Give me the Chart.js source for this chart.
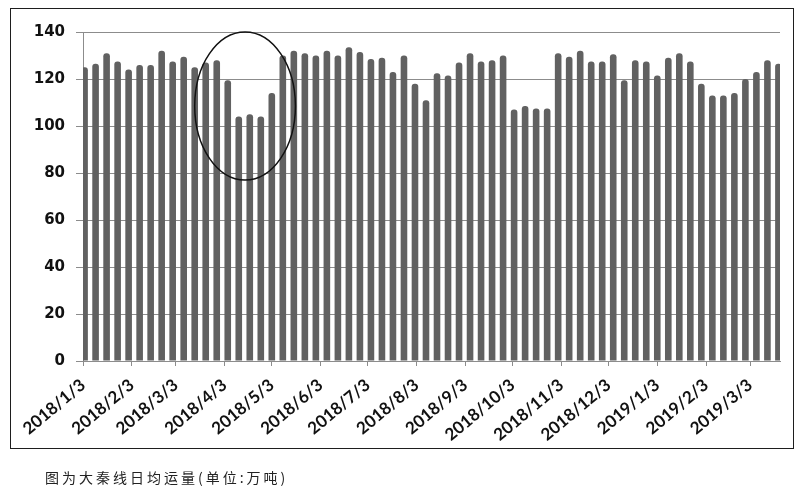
<!DOCTYPE html>
<html>
<head>
<meta charset="utf-8">
<script src="https://cdn.jsdelivr.net/npm/chart.js@4.4.1/dist/chart.umd.min.js"></script>
<style>
  html, body { margin: 0; padding: 0; background: #fff; }
  #wrap { position: relative; width: 801px; height: 493px; overflow: hidden; }
  #chart-box { position: absolute; left: 0; top: 0; width: 801px; height: 493px; }
  #frame { position: absolute; left: 10px; top: 8px; width: 782px; height: 439px; border: 1.5px solid #1e1e1e; pointer-events: none; }
  #caption { position: absolute; left: 45px; top: 467px; font-family: 'Noto Sans CJK SC', sans-serif; font-size: 14px; letter-spacing: 3px; color: #222; }
</style>
</head>
<body>
<div id="wrap">
  <div id="frame"></div>
  <div id="chart-box"><canvas id="daqin"></canvas></div>
  <div id="caption">图为大秦线日均运量(单位:万吨)</div>
</div>
<script>
  'use strict';

  // axis range and weekly series
  const axisStart = '2018/1/3';
  const axisEnd   = '2019/3/22';
  const firstWeek = '2018/1/4';

  const tickLabels = [
    '2018/1/3', '2018/2/3', '2018/3/3', '2018/4/3', '2018/5/3', '2018/6/3', '2018/7/3',
    '2018/8/3', '2018/9/3', '2018/10/3', '2018/11/3', '2018/12/3', '2019/1/3', '2019/2/3', '2019/3/3'
  ];

  // daily average volume, 10k tonnes, one value a week
  const volumes = [
    125, 126.5, 131, 127.5, 124, 126, 126, 132, 127.5, 129.5,
    125, 127, 128, 119.5, 104, 105, 104, 114, 130, 132,
    131, 130, 132, 130, 133.5, 131.5, 128.5, 129, 123, 130,
    118, 111, 122.5, 121.5, 127, 131, 127.5, 128, 130, 107,
    108.5, 107.5, 107.5, 131, 129.5, 132, 127.5, 127.5, 130.5, 119.5,
    128, 127.5, 121.5, 129, 131, 127.5, 118, 113, 113, 114,
    120, 123, 128, 126.5
  ];

  // the hand drawn ring round the april/may dip
  const ringDates  = ['2018/3/15', '2018/5/18'];
  const ringValues = [77, 140];

  function dayOffset(s) {
    let p = s.split('/').map(Number);
    let b = axisStart.split('/').map(Number);
    return (Date.UTC(p[0], p[1] - 1, p[2]) - Date.UTC(b[0], b[1] - 1, b[2])) / 86400000;
  }

  let points = volumes.map(function (v, i) {
    return { x: dayOffset(firstWeek) + 7 * i, y: v };
  });
  let tickDays = tickLabels.map(dayOffset);

  const ringPlugin = {
    id: 'ring',
    afterDatasetsDraw: function (chart) {
      let ctx = chart.ctx;
      let xs = chart.scales.x, ys = chart.scales.y;
      let x0 = xs.getPixelForValue(dayOffset(ringDates[0]));
      let x1 = xs.getPixelForValue(dayOffset(ringDates[1]));
      let y0 = ys.getPixelForValue(ringValues[0]);
      let y1 = ys.getPixelForValue(ringValues[1]);
      ctx.save();
      ctx.beginPath();
      ctx.ellipse((x0 + x1) / 2, (y0 + y1) / 2, Math.abs(x1 - x0) / 2, Math.abs(y1 - y0) / 2, 0, 0, Math.PI * 2);
      ctx.lineWidth = 1.5;
      ctx.strokeStyle = '#111';
      ctx.stroke();
      ctx.restore();
    }
  };

  new Chart(document.getElementById('daqin'), {
    type: 'bar',
    data: {
      datasets: [{
        data: points,
        backgroundColor: '#616161',
        borderWidth: 0,
        borderRadius: { topLeft: 3, topRight: 3 },
        borderSkipped: 'start',
        barPercentage: 0.6,
        categoryPercentage: 1
      }]
    },
    options: {
      responsive: true,
      maintainAspectRatio: false,
      animation: false,
      layout: { padding: { left: 0, right: 21, top: 32, bottom: 0 } },
      plugins: {
        legend: { display: false },
        tooltip: { enabled: false }
      },
      scales: {
        x: {
          type: 'linear',
          min: 0,
          max: dayOffset(axisEnd),
          offset: false,
          afterBuildTicks: function (scale) {
            scale.ticks = tickDays.map(function (d) { return { value: d }; });
          },
          afterFit: function (scale) { scale.height = 132; },
          grid: { display: true, drawOnChartArea: false, offset: false, tickLength: 5, color: '#8c8c8c' },
          border: { color: '#8c8c8c' },
          ticks: {
            autoSkip: false,
            maxRotation: 40,
            minRotation: 40,
            padding: 9,
            color: '#111',
            font: { family: 'Lato', size: 17, weight: 'bold' },
            callback: function (v, i) { return tickLabels[i]; }
          }
        },
        y: {
          min: 0,
          max: 140,
          afterFit: function (scale) { scale.width = 83; },
          grid: { color: '#8c8c8c', tickLength: 7 },
          border: { color: '#8c8c8c' },
          ticks: {
            stepSize: 20,
            padding: 11,
            color: '#111',
            font: { family: 'DejaVu Sans', size: 15, weight: 'bold' }
          }
        }
      }
    },
    plugins: [ringPlugin]
  });
</script>
</body>
</html>
